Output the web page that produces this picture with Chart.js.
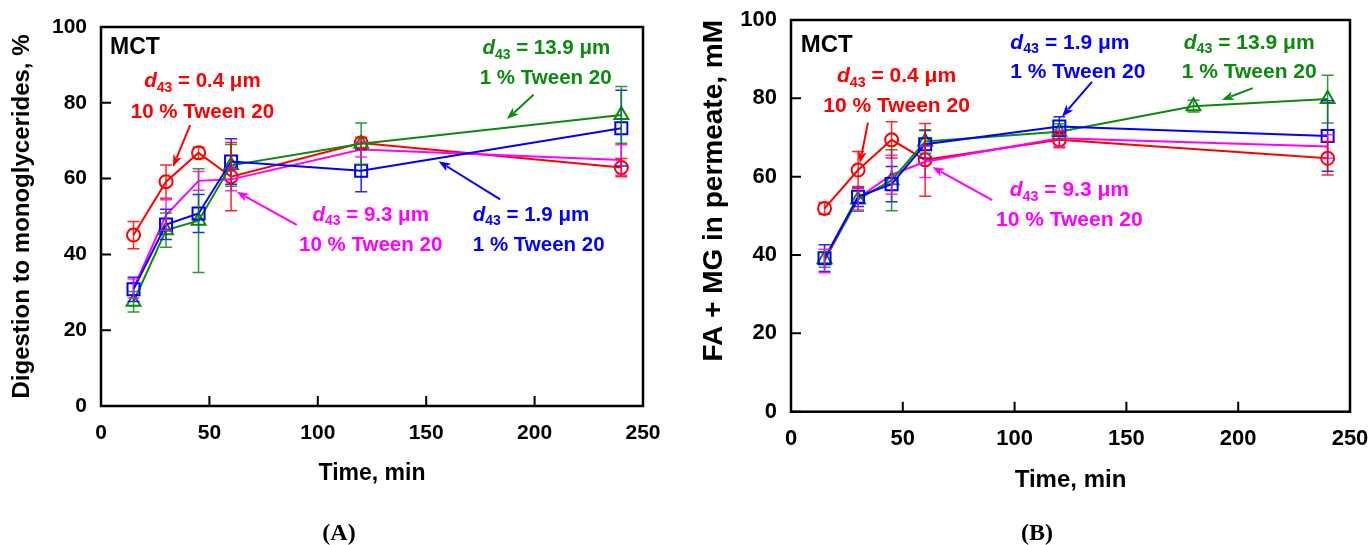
<!DOCTYPE html>
<html><head><meta charset="utf-8">
<script src="https://cdn.jsdelivr.net/npm/chart.js@4.4.0/dist/chart.umd.min.js"></script>
<style>
body{margin:0;background:#fff;width:1371px;height:545px;overflow:hidden;position:relative;}
#ca{position:absolute;left:0;top:0;}
#cb{position:absolute;left:690px;top:-10px;}
.cap{position:absolute;top:517px;font:bold 24px "Liberation Serif","DejaVu Serif",serif;color:#000;width:100px;text-align:center;line-height:30px;}
</style></head><body>
<canvas id="ca" width="690" height="545"></canvas>
<canvas id="cb" width="693" height="555"></canvas>
<div class="cap" style="left:289px;">(A)</div>
<div class="cap" style="left:987px;">(B)</div>
<script>
// ---------- data ----------
const xTicks = [0, 50, 100, 150, 200, 250];
const yTicks = [0, 20, 40, 60, 80, 100];

// Panel A: digestion to monoglycerides, %
const timesA = [15, 30, 45, 60, 120, 240];
const redA   = [45.1, 59.2, 66.8, 60.5, 69.4, 62.9];
const redErrA   = [3.6, 4.4, 1.5, 9.0, 1.5, 2.4];
const blueA  = [30.8, 47.9, 50.8, 64.5, 62.1, 73.3];
const blueErrA  = [3.2, 4.0, 5.0, 6.0, 5.6, 10.0];
const greenA = [27.5, 46.4, 48.9, 63.5, 69.2, 76.8];
const greenErrA = [2.7, 4.5, 13.7, 5.5, 5.5, 7.5];
const pinkA  = [31.0, 50.4, 59.4, 59.8, 67.7, 64.9];
const pinkErrA  = [2.5, 4.0, 2.5, 3.0, 2.0, 4.0];

// Panel B: FA + MG in permeate, mM
const timesB = [15, 30, 45, 60, 120, 240];
const timesGreenB = [15, 30, 45, 60, 120, 180, 240];
const redB   = [51.9, 61.7, 69.4, 64.3, 69.4, 64.7];
const redErrB   = [1.5, 4.7, 4.6, 9.3, 2.0, 4.3];
const blueB  = [39.2, 54.9, 58.1, 68.3, 72.8, 70.4];
const blueErrB  = [3.4, 2.5, 4.5, 3.5, 2.5, 9.0];
const greenB = [38.9, 54.2, 59.1, 69.0, 71.5, 78.0, 79.8];
const greenErrB = [2.0, 3.0, 7.8, 3.0, 2.0, 1.5, 6.1];
const pinkB  = [38.5, 54.5, 60.5, 63.8, 69.8, 67.7];
const pinkErrB  = [3.0, 3.0, 5.0, 4.0, 2.0, 3.0];

// ---------- styles ----------
const RED = '#ff0000', BLUE = '#0000ff', GREEN = '#0b8a0b', PINK = '#ff00ff';
const FONT = '"Liberation Sans", Arial, sans-serif';

function d43(v) { return [{t:'d', it:true}, {t:'43', sub:true}, {t:' = ' + v + ' \u03bcm'}]; }

const annotA = {
  size: 20.5, mct: 23,
  texts: [
    {x:4.15, y:94.5, align:'left', color:'#000', mct:true, parts:[{t:'MCT'}]},
    {x:46.8, y:85.6, align:'center', color:RED, parts:d43('0.4')},
    {x:46.8, y:77.6, align:'center', color:RED, parts:[{t:'10 % Tween 20'}]},
    {x:205.4, y:94.4, align:'center', color:GREEN, parts:d43('13.9')},
    {x:205.1, y:86.5, align:'center', color:GREEN, parts:[{t:'1 % Tween 20'}]},
    {x:171.5, y:50.4, align:'left', color:BLUE, parts:d43('1.9')},
    {x:171.5, y:42.5, align:'left', color:BLUE, parts:[{t:'1 % Tween 20'}]},
    {x:124.4, y:50.4, align:'center', color:PINK, parts:d43('9.3')},
    {x:124.4, y:42.5, align:'center', color:PINK, parts:[{t:'10 % Tween 20'}]}
  ],
  arrows: [
    {x1:41.1, y1:74.1, x2:33.2, y2:63.1, color:RED},
    {x1:199.5, y1:82.1, x2:187.2, y2:75.7, color:GREEN},
    {x1:184.1, y1:54.5, x2:155.7, y2:64.6, color:BLUE},
    {x1:90.3, y1:47.8, x2:62.6, y2:56.5, color:PINK}
  ]
};
const annotB = {
  size: 21, mct: 24,
  texts: [
    {x:4.33, y:93.6, align:'left', color:'#000', mct:true, parts:[{t:'MCT'}]},
    {x:47.2, y:85.7, align:'center', color:RED, parts:d43('0.4')},
    {x:47.2, y:77.9, align:'center', color:RED, parts:[{t:'10 % Tween 20'}]},
    {x:98.1, y:94.2, align:'left', color:BLUE, parts:d43('1.9')},
    {x:98.1, y:86.8, align:'left', color:BLUE, parts:[{t:'1 % Tween 20'}]},
    {x:204.9, y:94.2, align:'center', color:GREEN, parts:d43('13.9')},
    {x:204.9, y:86.8, align:'center', color:GREEN, parts:[{t:'1 % Tween 20'}]},
    {x:124.5, y:56.6, align:'center', color:PINK, parts:d43('9.3')},
    {x:124.5, y:48.8, align:'center', color:PINK, parts:[{t:'10 % Tween 20'}]}
  ],
  arrows: [
    {x1:34.4, y1:73.8, x2:30.8, y2:63.4, color:RED},
    {x1:134.6, y1:84.2, x2:121.2, y2:75.3, color:BLUE},
    {x1:206.5, y1:82.6, x2:192.7, y2:79.6, color:GREEN},
    {x1:90.0, y1:54.0, x2:63.2, y2:62.5, color:PINK}
  ]
};

function pts(xs, ys) { return xs.map((x, i) => ({x: x, y: ys[i]})); }
function series(label, xs, ys, errs, color, style, radius) {
  return {
    label: label, data: pts(xs, ys), errors: errs,
    borderColor: color, borderWidth: 2, backgroundColor: 'transparent',
    pointStyle: style, pointRadius: radius, pointBorderWidth: 2,
    pointBorderColor: color, pointBackgroundColor: 'rgba(0,0,0,0)',
    fill: false, tension: 0, clip: false
  };
}

function drawRich(ctx, item, size, mctSize, px, py) {
  const fs = item.mct ? mctSize : size;
  const segs = item.parts.map(p => {
    const s = p.sub ? fs * 0.68 : fs;
    const f = (p.it ? 'italic ' : '') + 'bold ' + s + 'px ' + FONT;
    ctx.font = f;
    return {t: p.t, f: f, w: ctx.measureText(p.t).width, dy: p.sub ? fs * 0.32 : 0};
  });
  const total = segs.reduce((a, s) => a + s.w, 0);
  let x = item.align === 'center' ? px - total / 2 : px;
  ctx.fillStyle = item.color;
  ctx.textBaseline = 'middle';
  ctx.textAlign = 'left';
  segs.forEach(s => { ctx.font = s.f; ctx.fillText(s.t, x, py + s.dy); x += s.w; });
}

function drawArrow(ctx, x1, y1, x2, y2, color) {
  const ang = Math.atan2(y2 - y1, x2 - x1);
  const L = 12, W = 4.5;
  ctx.strokeStyle = color; ctx.fillStyle = color; ctx.lineWidth = 2;
  ctx.beginPath();
  ctx.moveTo(x1, y1);
  ctx.lineTo(x2 - Math.cos(ang) * L * 0.8, y2 - Math.sin(ang) * L * 0.8);
  ctx.stroke();
  ctx.beginPath();
  ctx.moveTo(x2, y2);
  ctx.lineTo(x2 - Math.cos(ang) * L - Math.sin(ang) * W, y2 - Math.sin(ang) * L + Math.cos(ang) * W);
  ctx.lineTo(x2 - Math.cos(ang) * L * 0.75, y2 - Math.sin(ang) * L * 0.75);
  ctx.lineTo(x2 - Math.cos(ang) * L + Math.sin(ang) * W, y2 - Math.sin(ang) * L - Math.cos(ang) * W);
  ctx.closePath();
  ctx.fill();
}

const decor = {
  id: 'decor',
  afterDatasetsDraw(chart) {
    const ctx = chart.ctx, xs = chart.scales.x, ys = chart.scales.y, a = chart.chartArea;
    ctx.save();
    // error bars
    chart.data.datasets.forEach(ds => {
      ctx.strokeStyle = ds.borderColor; ctx.globalAlpha = 0.85; ctx.lineWidth = 1.5;
      ds.data.forEach((p, i) => {
        const e = ds.errors[i];
        const px = xs.getPixelForValue(p.x);
        const top = ys.getPixelForValue(p.y + e), bot = ys.getPixelForValue(p.y - e);
        ctx.beginPath();
        ctx.moveTo(px, top); ctx.lineTo(px, bot);
        ctx.moveTo(px - 6, top); ctx.lineTo(px + 6, top);
        ctx.moveTo(px - 6, bot); ctx.lineTo(px + 6, bot);
        ctx.stroke();
      });
    });
    ctx.globalAlpha = 1;
    // frame
    ctx.strokeStyle = '#000'; ctx.lineWidth = 2.5;
    ctx.strokeRect(a.left, a.top, a.right - a.left, a.bottom - a.top);
    // inward ticks
    ctx.lineWidth = 2;
    ctx.beginPath();
    xs.ticks.forEach(t => { const p = xs.getPixelForValue(t.value); ctx.moveTo(p, a.bottom); ctx.lineTo(p, a.bottom - 10); });
    ys.ticks.forEach(t => { const p = ys.getPixelForValue(t.value); ctx.moveTo(a.left, p); ctx.lineTo(a.left + 10, p); });
    ctx.stroke();
    // annotations
    const an = chart.options.plugins.decor.annot;
    an.arrows.forEach(r => drawArrow(ctx, xs.getPixelForValue(r.x1), ys.getPixelForValue(r.y1),
      xs.getPixelForValue(r.x2), ys.getPixelForValue(r.y2), r.color));
    an.texts.forEach(t => drawRich(ctx, t, an.size, an.mct, xs.getPixelForValue(t.x), ys.getPixelForValue(t.y)));
    ctx.restore();
  }
};

function makeChart(id, datasets, cfg) {
  return new Chart(document.getElementById(id), {
    type: 'line',
    data: {datasets: datasets},
    options: {
      responsive: false, animation: false, events: [],
      layout: {padding: {top: cfg.padTop, right: cfg.padRight, left: 0, bottom: 0}},
      plugins: {legend: {display: false}, tooltip: {enabled: false}, decor: {annot: cfg.annot}},
      scales: {
        x: {
          type: 'linear', min: 0, max: 250,
          afterBuildTicks: s => { s.ticks = xTicks.map(v => ({value: v})); },
          afterFit: s => { s.height = cfg.xHeight; },
          grid: {display: false, drawTicks: false}, border: {display: false},
          ticks: {color: '#000', padding: cfg.xTickPad, font: {family: FONT, weight: 'bold', size: cfg.tickSize}},
          title: {display: true, text: 'Time, min', color: '#000',
            font: {family: FONT, weight: 'bold', size: cfg.xTitleSize}, padding: {top: 0, bottom: cfg.xTitlePad}}
        },
        y: {
          type: 'linear', min: 0, max: 100,
          afterBuildTicks: s => { s.ticks = yTicks.map(v => ({value: v})); },
          afterFit: s => { s.width = 101; },
          grid: {display: false, drawTicks: false}, border: {display: false},
          ticks: {color: '#000', padding: 14, font: {family: FONT, weight: 'bold', size: cfg.tickSize}},
          title: {display: true, text: cfg.yTitle, color: '#000', align: cfg.yAlign,
            font: {family: FONT, weight: 'bold', size: cfg.yTitleSize}, padding: {top: cfg.yTitlePad, bottom: 0}}
        }
      }
    },
    plugins: [decor]
  });
}

makeChart('ca', [
  series('d43 = 1.9 μm, 1 % Tween 20', timesA, blueA, blueErrA, BLUE, 'rect', 8.5),
  series('d43 = 13.9 μm, 1 % Tween 20', timesA, greenA, greenErrA, GREEN, 'triangle', 8),
  series('d43 = 9.3 μm, 10 % Tween 20', timesA, pinkA, pinkErrA, PINK, 'circle', 0),
  series('d43 = 0.4 μm, 10 % Tween 20', timesA, redA, redErrA, RED, 'circle', 6.5)
], {padTop: 27, padRight: 47, xHeight: 139, xTickPad: 15, tickSize: 21, xTitleSize: 23, xTitlePad: 58,
    yTitle: 'Digestion to monoglycerides, %', yAlign: 'center', yTitleSize: 24, yTitlePad: 8, annot: annotA});

makeChart('cb', [
  series('d43 = 1.9 μm, 1 % Tween 20', timesB, blueB, blueErrB, BLUE, 'rect', 8.5),
  series('d43 = 13.9 μm, 1 % Tween 20', timesGreenB, greenB, greenErrB, GREEN, 'triangle', 8),
  series('d43 = 9.3 μm, 10 % Tween 20', timesB, pinkB, pinkErrB, PINK, 'circle', 0),
  series('d43 = 0.4 μm, 10 % Tween 20', timesB, redB, redErrB, RED, 'circle', 6.5)
], {padTop: 30, padRight: 33, xHeight: 133.3, xTickPad: 14, tickSize: 22, xTitleSize: 24, xTitlePad: 50.6,
    yTitle: 'FA + MG in permeate, mM', yAlign: 'end', yTitleSize: 28, yTitlePad: 7.5, annot: annotB});
</script>
</body></html>
